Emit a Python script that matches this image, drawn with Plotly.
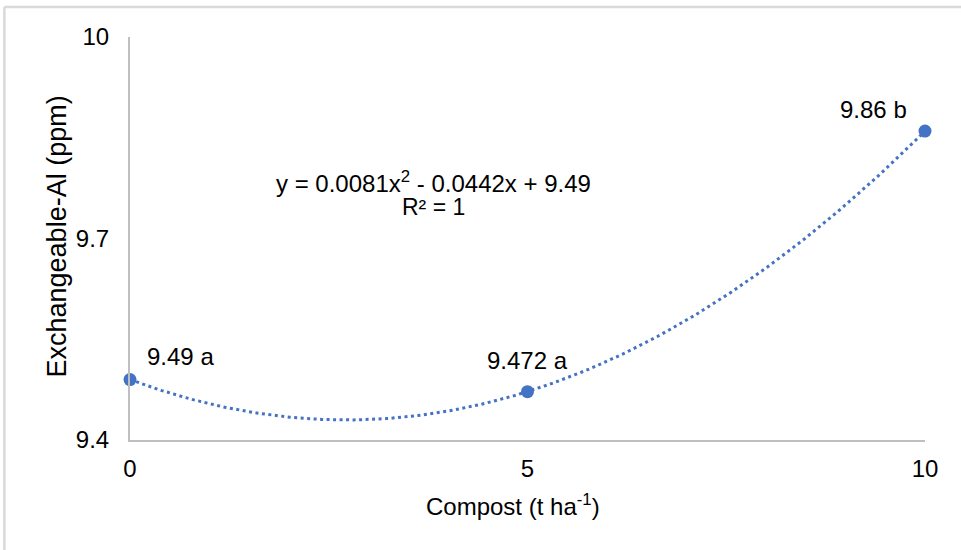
import numpy as np
import plotly.graph_objects as go

# ---- data ----
compost = [0, 5, 10]
exch_al = [9.49, 9.472, 9.86]
point_labels = ["9.49 a", "9.472 a", "9.86 b"]
y_ticks = [9.4, 9.7, 10]
y_tick_labels = ["9.4", "9.7", "10"]
x_ticks = [0, 5, 10]
x_tick_labels = ["0", "5", "10"]

BLUE = "#4472C4"
FONT = "Liberation Sans, Arial, sans-serif"

# polynomial (order 2) trendline fitted to the data
coef = np.polyfit(compost, exch_al, 2)
xs = np.linspace(min(compost), max(compost), 200)
ys = np.polyval(coef, xs)

fig = go.Figure()
fig.add_trace(go.Scatter(x=xs, y=ys, mode="lines",
                         line=dict(color=BLUE, width=3, dash="3px,3.5px"),
                         hoverinfo="skip", showlegend=False))
fig.add_trace(go.Scatter(x=compost, y=exch_al, mode="markers",
                         marker=dict(color=BLUE, size=13),
                         showlegend=False, cliponaxis=False))

# data labels (offsets in pixels)
shifts = [(50, 23), (0, 31), (-52, 22)]
for xv, yv, lab, (dx, dy) in zip(compost, exch_al, point_labels, shifts):
    fig.add_annotation(x=xv, y=yv, xref="x", yref="y", text=lab, showarrow=False,
                       xshift=dx, yshift=dy, font=dict(size=24, color="#000000", family=FONT))

# trendline equation
fig.add_annotation(x=3.82, y=9.783, xref="x", yref="y", yshift=1,
                   text="y = 0.0081x<sup>2</sup> - 0.0442x + 9.49",
                   showarrow=False, font=dict(size=24, color="#000000", family=FONT))
fig.add_annotation(x=3.82, y=9.783, xref="x", yref="y", yshift=-24,
                   text="R² = 1",
                   showarrow=False, font=dict(size=23, color="#000000", family=FONT))

# axis titles
fig.add_annotation(x=0, y=0.505, xref="paper", yref="paper", xshift=-73,
                   text="Exchangeable-Al (ppm)", textangle=-90, showarrow=False,
                   xanchor="center", yanchor="middle",
                   font=dict(size=27, color="#000000", family=FONT))
fig.add_annotation(x=0.482, y=0, xref="paper", yref="paper", yshift=-65,
                   text="Compost (t ha<sup>-1</sup>)", showarrow=False,
                   xanchor="center", yanchor="middle",
                   font=dict(size=24, color="#000000", family=FONT))

# outer chart border (top and left visible)
fig.add_shape(type="line", xref="paper", yref="paper", x0=-0.158, x1=1.2, y0=1.0745, y1=1.0745,
              line=dict(color="#d9d9d9", width=2.5))
fig.add_shape(type="line", xref="paper", yref="paper", x0=-0.158, x1=-0.158, y0=1.0745, y1=-0.35,
              line=dict(color="#d9d9d9", width=2.5))

fig.update_layout(
    width=961, height=550,
    margin=dict(l=130, r=36, t=37, b=110),
    paper_bgcolor="white", plot_bgcolor="white",
    font=dict(family=FONT, size=24, color="#000000"),
    showlegend=False,
)
fig.update_xaxes(range=[0, 10], tickvals=x_ticks, ticktext=x_tick_labels,
                 showgrid=False, zeroline=False, showline=True, linecolor="#bfbfbf", linewidth=2,
                 ticks="", ticklabelstandoff=6, tickfont=dict(size=24))
fig.update_yaxes(range=[9.4, 10], tickvals=y_ticks, ticktext=y_tick_labels,
                 showgrid=False, zeroline=False, showline=True, linecolor="#bfbfbf", linewidth=2,
                 ticks="", ticklabelstandoff=14, tickfont=dict(size=24))

fig.write_html("out.html", config={"displayModeBar": False},
               post_script="document.body.style.margin='0';document.body.style.overflow='hidden';")
